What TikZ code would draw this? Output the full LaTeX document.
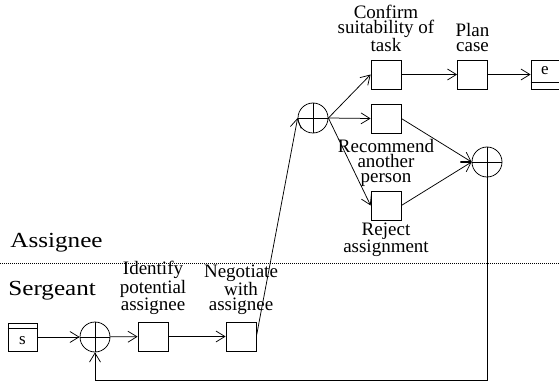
\documentclass[tikz,border=0pt]{standalone}
\usepackage{fontspec}
\usepackage{graphicx}
\setmainfont{Liberation Serif}
\usetikzlibrary{arrows.meta,calc}
\begin{document}
\begin{tikzpicture}[x=1pt,y=-1pt, line width=0.75pt,
 arr/.style={-{Straight Barb[length=9pt,width=11pt,line width=0.75pt]}},
 taskbox/.style={draw, minimum width=30pt, minimum height=29pt, inner sep=0pt},
 xorgate/.style={draw, circle, minimum size=30pt, inner sep=0pt,
   path picture={\draw (path picture bounding box.north) -- (path picture bounding box.south)
                       (path picture bounding box.west) -- (path picture bounding box.east);}},
 lbl/.style={align=center, font=\fontsize{19}{15}\selectfont, inner sep=0pt, text depth=0pt, anchor=south},
 lane/.style={font=\fontsize{21.5}{24}\selectfont, anchor=base west, inner sep=0pt},
 term/.style={draw, minimum width=29pt, minimum height=28pt, inner sep=0pt},
 termtxt/.style={font=\fontsize{17}{18}\selectfont, inner sep=0pt}]
\path[use as bounding box] (0,0) rectangle (559,382);
\begin{scope}
\clip (0,0) rectangle (559,382);
% lanes
\coordinate (dl) at (0,263);
\coordinate (dr) at (559,263);
\draw[dash pattern=on 1pt off 1pt, line width=0.8pt] (dl) -- (dr);
\node[lane] (la) at (10,247) {\scalebox{1.17}[1]{Assignee}};
\node[lane] (ls) at (8,295) {\scalebox{1.17}[1]{Sergeant}};
% start / end
\node[term] (s) at (22.5,337) {};
\draw ($(s.north west)+(0,6)$) -- ($(s.north east)+(0,6)$);
\node[termtxt] (st) at (22.5,341) {s};
\node[term, minimum height=29pt] (e) at (545.5,74.5) {};
\draw ($(e.south west)+(0,-7)$) -- ($(e.south east)+(0,-7)$);
\node[termtxt] (et) at (545,71) {e};
% gates and tasks
\node[xorgate] (x1) at (95,337) {};
\node[xorgate] (x2) at (313,118) {};
\node[xorgate] (x3) at (487,162) {};
\node[taskbox] (id) at (153,336.5) {};
\node[taskbox] (neg) at (241,336.5) {};
\node[taskbox] (conf) at (386,74.5) {};
\node[taskbox] (plan) at (472.5,74.5) {};
\node[taskbox] (rec) at (386,118.5) {};
\node[taskbox] (rej) at (386,205.5) {};
% labels
\node[lbl] (lconf) at (386,52) {Confirm\\suitability of\\task};
\node[lbl] (lplan) at (472.5,52) {Plan\\case};
\node[lbl] (lid) at (153,311) {Identify\\potential\\assignee};
\node[lbl] (lneg) at (241,311) {Negotiate\\with\\assignee};
\node[lbl] (lrec) at (386,183) {Recommend\\another\\person};
\node[lbl] (lrej) at (386,253) {Reject\\assignment};
% edges
\draw[arr] (s) -- (x1);
\draw[arr] (x1) -- (id);
\draw[arr] (id) -- (neg);
\draw[arr] (neg.east) -- (x2.west);
\draw[arr] (x2.east) -- (conf.west);
\draw[arr] (x2.east) -- (rec.west);
\draw[arr] (x2.east) -- (rej.west);
\draw[arr] (conf) -- (plan);
\draw[arr] (plan) -- (e);
\draw[arr] (rec.east) -- (x3.west);
\draw[arr] (rej.east) -- (x3.west);
\coordinate (fb) at (95,380);
\draw[arr] (x3.south) |- (fb) -- (x1.south);
\end{scope}
\end{tikzpicture}
\end{document}
